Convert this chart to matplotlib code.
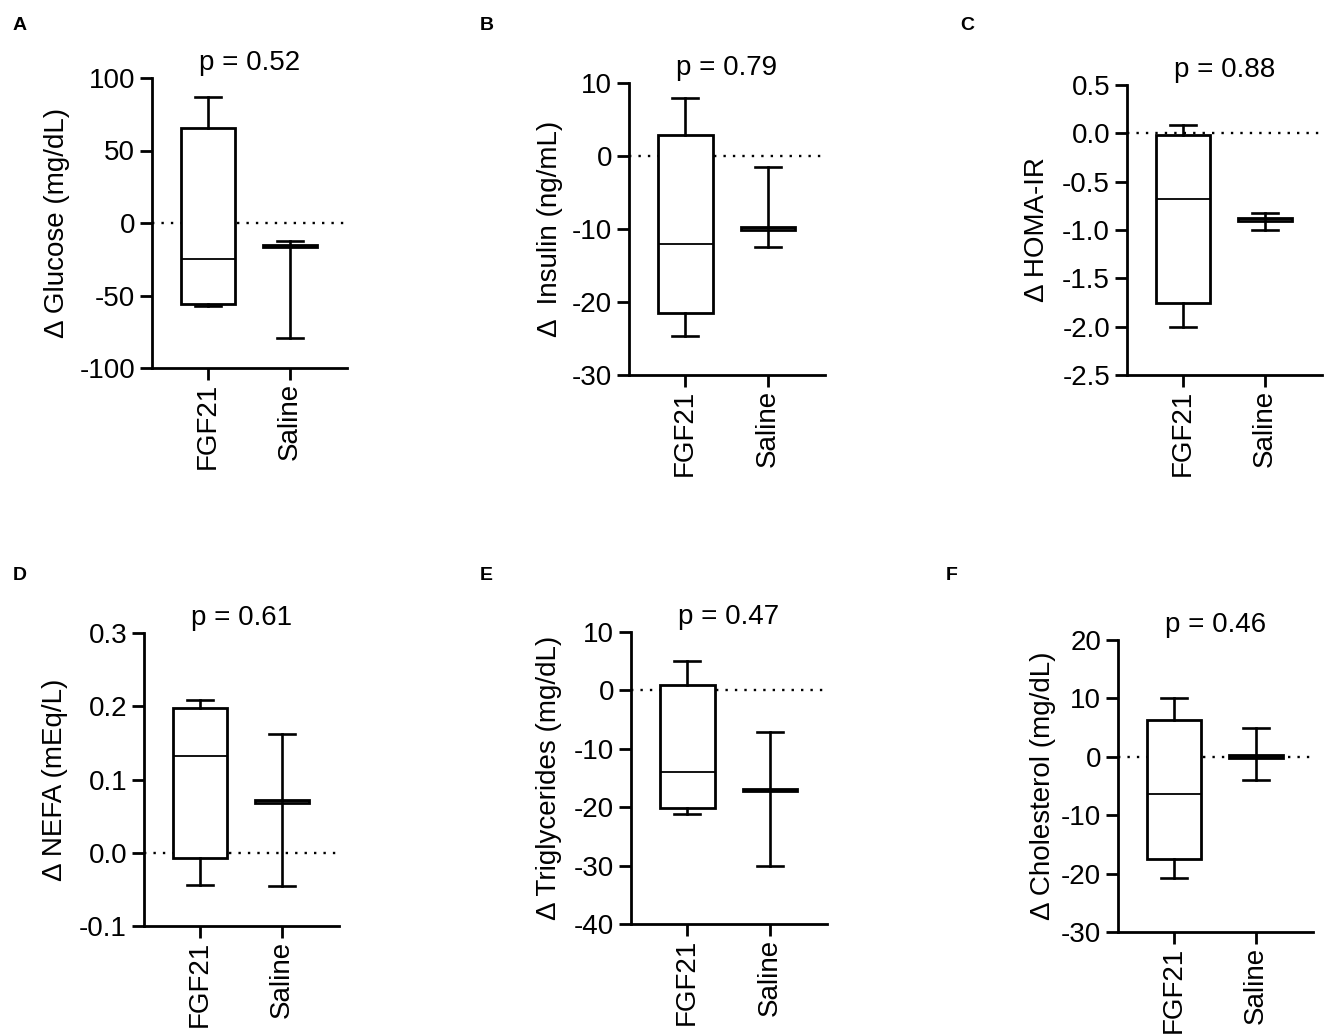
import matplotlib
matplotlib.use("Agg")
import matplotlib.pyplot as plt
from matplotlib.ticker import FormatStrFormatter

plt.rcParams['font.family'] = ['Liberation Sans', 'DejaVu Sans']
plt.rcParams['axes.unicode_minus'] = False

categories = ["FGF21", "Saline"]
panel_letters = ["A", "B", "C", "D", "E", "F"]
p_values = ["p = 0.52", "p = 0.79", "p = 0.88", "p = 0.61", "p = 0.47", "p = 0.46"]
ylabels = ["Δ Glucose (mg/dL)", "Δ  Insulin (ng/mL)", "Δ HOMA-IR",
           "Δ NEFA (mEq/L)", "Δ Triglycerides (mg/dL)", "Δ Cholesterol (mg/dL)"]

# box statistics per panel: [whislo, q1, med, q3, whishi] for FGF21 and Saline
glucose_fgf21 = [-57, -55.7, -25, 65.5, 87]
glucose_saline = [-79, -16.6, -16, -15, -12.5]
insulin_fgf21 = [-24.6, -21.5, -12.1, 2.9, 8]
insulin_saline = [-12.5, -10.1, -9.9, -9.7, -1.5]
homa_fgf21 = [-2.0, -1.75, -0.68, -0.02, 0.09]
homa_saline = [-1.0, -0.905, -0.888, -0.872, -0.827]
nefa_fgf21 = [-0.0434, -0.0074, 0.132, 0.198, 0.2086]
nefa_saline = [-0.0448, 0.068, 0.070, 0.0715, 0.162]
tg_fgf21 = [-21.1, -20.1, -13.9, 0.9, 5]
tg_saline = [-30, -17.2, -17, -16.8, -7.1]
chol_fgf21 = [-20.7, -17.5, -6.4, 6.3, 10]
chol_saline = [-4, -0.25, 0, 0.25, 5]

yticks = [
    [-100, -50, 0, 50, 100],
    [-30, -20, -10, 0, 10],
    [-2.5, -2.0, -1.5, -1.0, -0.5, 0.0, 0.5],
    [-0.1, 0.0, 0.1, 0.2, 0.3],
    [-40, -30, -20, -10, 0, 10],
    [-30, -20, -10, 0, 10, 20],
]
yformats = ["%d", "%d", "%.1f", "%.1f", "%d", "%d"]

panel_data = [
    (glucose_fgf21, glucose_saline),
    (insulin_fgf21, insulin_saline),
    (homa_fgf21, homa_saline),
    (nefa_fgf21, nefa_saline),
    (tg_fgf21, tg_saline),
    (chol_fgf21, chol_saline),
]

W, H = 1325, 1036
# axes pixel boxes: left, right, top, bottom
boxes_px = [
    (152, 347, 78, 368),
    (629, 825, 83, 375),
    (1127, 1322, 85, 375),
    (144, 339, 633, 926),
    (631, 827, 632, 924),
    (1118, 1313, 640, 932),
]
letter_px = [(13, 26), (480, 26), (960, 26), (13, 576), (480, 576), (946, 576)]
ylabel_x = [-0.42, -0.337, -0.395, -0.39, -0.35, -0.32]

fig = plt.figure(figsize=(W / 100, H / 100), dpi=100)

for i in range(6):
    l, r, t, b = boxes_px[i]
    ax = fig.add_axes([l / W, 1 - b / H, (r - l) / W, (b - t) / H])
    stats = []
    for name, vals in zip(categories, panel_data[i]):
        stats.append(dict(label=name, whislo=vals[0], q1=vals[1], med=vals[2],
                          q3=vals[3], whishi=vals[4], fliers=[]))
    ax.axhline(0, color='black', lw=1.7, ls=(0, (1, 3.0)), zorder=1)
    ax.bxp(stats, positions=[1, 2], widths=0.66, capwidths=0.32,
           patch_artist=True, showfliers=False,
           boxprops=dict(facecolor='white', edgecolor='black', linewidth=2.0),
           medianprops=dict(color='black', linewidth=1.3),
           whiskerprops=dict(color='black', linewidth=1.9),
           capprops=dict(color='black', linewidth=1.9),
           zorder=3)
    yt = yticks[i]
    ax.set_ylim(yt[0], yt[-1])
    ax.set_yticks(yt)
    ax.yaxis.set_major_formatter(FormatStrFormatter(yformats[i]))
    ax.set_xlim(0.32, 2.69)
    ax.set_xticks([1, 2])
    ax.set_xticklabels(categories, rotation=90, va='top', ha='center')
    for s in ['top', 'right']:
        ax.spines[s].set_visible(False)
    for s in ['left', 'bottom']:
        ax.spines[s].set_linewidth(2.0)
    ax.tick_params(axis='both', length=8.6, width=2.0, labelsize=20, color='black')
    ax.tick_params(axis='y', pad=3.6)
    ax.tick_params(axis='x', pad=2)
    ax.set_ylabel(ylabels[i], fontsize=20)
    ax.yaxis.set_label_coords(ylabel_x[i], 0.5)
    ax.set_title(p_values[i], fontsize=20, pad=6)
    lx, ly = letter_px[i]
    fig.text(lx / W, 1 - ly / H, panel_letters[i], fontsize=14, fontweight='bold',
             ha='left', va='center')

fig.savefig("out.png", dpi=100)
